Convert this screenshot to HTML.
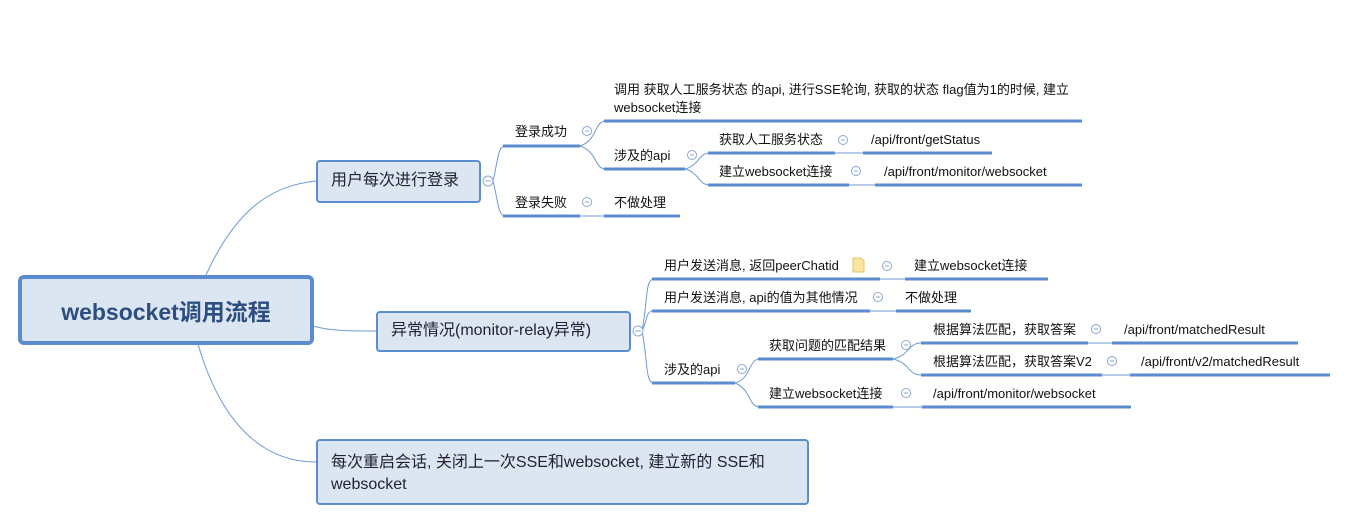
<!DOCTYPE html>
<html><head><meta charset="utf-8"><style>
body{margin:0;width:1360px;height:523px;background:#fff;position:relative;overflow:hidden;font-family:"Liberation Sans","Noto Sans CJK SC",sans-serif;}
.t{position:absolute;font-size:13px;line-height:18px;color:#111;white-space:nowrap;}
.box{position:absolute;background:#dce6f2;border:2px solid #5b8cd0;border-radius:4px;box-sizing:border-box;color:#223;font-size:16px;}
svg{position:absolute;left:0;top:0;}
</style></head><body>
<svg width="1360" height="523">
<g fill="none" stroke="#6f9ad6" stroke-width="1">
<path d="M206 275 C240 200,280 185,316 181"/>
<path d="M313 326 C330 331,350 331,376 331"/>
<path d="M198 344 C220 420,260 462,316 462"/>
<path d="M493 181 C498 160,498 146,505 146"/>
<path d="M493 181 C498 200,498 216,505 216"/>
<path d="M580 146 C598 140,594 121,606 121"/>
<path d="M580 146 C598 152,594 169,606 169"/>
<path d="M685 169 C700 165,698 153,710 153"/>
<path d="M685 169 C700 173,698 185,710 185"/>
<path d="M580 216 L604 216"/><path d="M835 153 L863 153"/><path d="M849 185 L875 185"/>
<path d="M642 331 C648 300,645 279,654 279"/>
<path d="M642 331 C648 320,645 311,654 311"/>
<path d="M642 331 C648 360,645 383,654 383"/>
<path d="M735 383 C752 378,748 359,760 359"/>
<path d="M735 383 C752 390,748 407,760 407"/>
<path d="M893 359 C910 355,908 343,921 343"/>
<path d="M893 359 C910 363,908 375,921 375"/>
<path d="M880 279 L905 279"/><path d="M870 311 L896 311"/><path d="M1088 343 L1112 343"/><path d="M1102 375 L1130 375"/><path d="M893 407 L922 407"/>
</g>
<g stroke="#5b8cd0" stroke-width="3">
<line x1="503" y1="146" x2="580" y2="146"/><line x1="503" y1="216" x2="580" y2="216"/>
<line x1="604" y1="121" x2="1082" y2="121"/><line x1="604" y1="169" x2="685" y2="169"/>
<line x1="708" y1="153" x2="835" y2="153"/><line x1="863" y1="153" x2="992" y2="153"/>
<line x1="708" y1="185" x2="849" y2="185"/><line x1="875" y1="185" x2="1082" y2="185"/>
<line x1="604" y1="216" x2="680" y2="216"/>
<line x1="652" y1="279" x2="880" y2="279"/><line x1="905" y1="279" x2="1048" y2="279"/>
<line x1="652" y1="311" x2="870" y2="311"/><line x1="896" y1="311" x2="971" y2="311"/>
<line x1="652" y1="383" x2="735" y2="383"/>
<line x1="758" y1="359" x2="893" y2="359"/><line x1="758" y1="407" x2="893" y2="407"/>
<line x1="921" y1="343" x2="1088" y2="343"/><line x1="1112" y1="343" x2="1298" y2="343"/>
<line x1="921" y1="375" x2="1102" y2="375"/><line x1="1130" y1="375" x2="1330" y2="375"/>
<line x1="922" y1="407" x2="1131" y2="407"/>
</g>
<g fill="#fff" stroke="#8aa6d4" stroke-width="1">
<circle cx="488" cy="181" r="5"/><circle cx="638" cy="331" r="5"/>
<circle cx="587" cy="131" r="4.5"/><circle cx="587" cy="202" r="4.5"/><circle cx="692" cy="155" r="4.5"/>
<circle cx="843" cy="140" r="4.5"/><circle cx="856" cy="171" r="4.5"/>
<circle cx="887" cy="266" r="4.5"/><circle cx="878" cy="297" r="4.5"/><circle cx="742" cy="369" r="4.5"/>
<circle cx="906" cy="345" r="4.5"/><circle cx="906" cy="393" r="4.5"/>
<circle cx="1096" cy="329" r="4.5"/><circle cx="1112" cy="361" r="4.5"/>
</g>
<g stroke="#8aa6d4" stroke-width="1">
<line x1="485" y1="181" x2="491" y2="181"/><line x1="635" y1="331" x2="641" y2="331"/>
<line x1="585" y1="131" x2="589" y2="131"/><line x1="585" y1="202" x2="589" y2="202"/><line x1="690" y1="155" x2="694" y2="155"/>
<line x1="841" y1="140" x2="845" y2="140"/><line x1="854" y1="171" x2="858" y2="171"/>
<line x1="885" y1="266" x2="889" y2="266"/><line x1="876" y1="297" x2="880" y2="297"/><line x1="740" y1="369" x2="744" y2="369"/>
<line x1="904" y1="345" x2="908" y2="345"/><line x1="904" y1="393" x2="908" y2="393"/>
<line x1="1094" y1="329" x2="1098" y2="329"/><line x1="1110" y1="361" x2="1114" y2="361"/>
</g>
<path d="M853 258 h8 l3 3 v11 h-11 z" fill="#fbe3a0" stroke="#e8c060" stroke-width="1"/>
</svg>
<div class="box" style="left:18px;top:275px;width:296px;height:70px;border-width:4px;border-radius:6px;font-size:23px;font-weight:bold;color:#2d4f80;display:flex;align-items:center;justify-content:center;">websocket调用流程</div>
<div class="box" style="left:316px;top:160px;width:165px;height:43px;padding:7px 0 0 13px;line-height:24px;">用户每次进行登录</div>
<div class="box" style="left:376px;top:311px;width:255px;height:41px;padding:6px 0 0 13px;line-height:24px;">异常情况(monitor-relay异常)</div>
<div class="box" style="left:316px;top:439px;width:493px;height:66px;padding:11px 0 0 13px;line-height:22px;">每次重启会话, 关闭上一次SSE和websocket, 建立新的 SSE和<br>websocket</div>
<div class="t" style="left:515px;top:123px">登录成功</div>
<div class="t" style="left:515px;top:194px">登录失败</div>
<div class="t" style="left:614px;top:81px">调用 获取人工服务状态 的api, 进行SSE轮询, 获取的状态 flag值为1的时候, 建立</div>
<div class="t" style="left:614px;top:99px">websocket连接</div>
<div class="t" style="left:614px;top:147px">涉及的api</div>
<div class="t" style="left:719px;top:131px">获取人工服务状态</div>
<div class="t" style="left:871px;top:131px">/api/front/getStatus</div>
<div class="t" style="left:719px;top:163px">建立websocket连接</div>
<div class="t" style="left:884px;top:163px">/api/front/monitor/websocket</div>
<div class="t" style="left:614px;top:194px">不做处理</div>
<div class="t" style="left:664px;top:257px">用户发送消息, 返回peerChatid</div>
<div class="t" style="left:914px;top:257px">建立websocket连接</div>
<div class="t" style="left:664px;top:289px">用户发送消息, api的值为其他情况</div>
<div class="t" style="left:905px;top:289px">不做处理</div>
<div class="t" style="left:664px;top:361px">涉及的api</div>
<div class="t" style="left:769px;top:337px">获取问题的匹配结果</div>
<div class="t" style="left:933px;top:321px">根据算法匹配，获取答案</div>
<div class="t" style="left:1124px;top:321px">/api/front/matchedResult</div>
<div class="t" style="left:933px;top:353px">根据算法匹配，获取答案V2</div>
<div class="t" style="left:1141px;top:353px">/api/front/v2/matchedResult</div>
<div class="t" style="left:769px;top:385px">建立websocket连接</div>
<div class="t" style="left:933px;top:385px">/api/front/monitor/websocket</div>
</body></html>
